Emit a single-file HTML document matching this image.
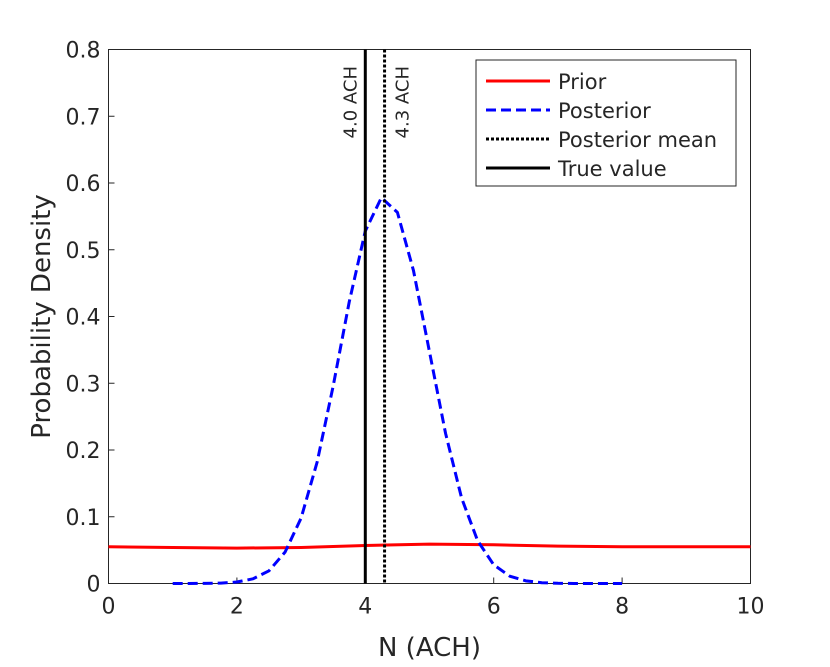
<!DOCTYPE html>
<html><head><meta charset="utf-8"><style>
body{margin:0;background:#fff;}
svg text{font-family:"DejaVu Sans","Liberation Sans",sans-serif;fill:#262626;}
</style></head><body>
<svg width="830" height="662" id="c">
<rect width="830" height="662" fill="#fff"/>
<g id="axes"></g>
<g id="marks"></g>
<g>
<rect x="476" y="60" width="260" height="126" fill="#fff" stroke="#262626" stroke-width="1"/>
<line x1="486" x2="550" y1="81" y2="81" stroke="#ff0000" stroke-width="3"/>
<text x="558" y="89" font-size="21">Prior</text>
<line x1="486" x2="550" y1="110" y2="110" stroke="#0000ff" stroke-width="3" stroke-dasharray="10,5"/>
<text x="558" y="118" font-size="21">Posterior</text>
<line x1="486" x2="550" y1="139" y2="139" stroke="#000" stroke-width="3" stroke-dasharray="3,2"/>
<text x="558" y="147" font-size="21">Posterior mean</text>
<line x1="486" x2="550" y1="168" y2="168" stroke="#000" stroke-width="3"/>
<text x="558" y="176" font-size="21">True value</text>
</g>
</svg>
<script>
const priorX=[0,1,2,3,4,5,6,7,8,9,10];
const priorY=[0.055,0.054,0.053,0.054,0.057,0.059,0.058,0.056,0.055,0.055,0.055];
const postX=[1,1.25,1.5,1.75,2,2.25,2.5,2.75,3,3.25,3.5,3.75,4,4.25,4.5,4.75,5,5.25,5.5,5.75,6,6.25,6.5,6.75,7,7.25,7.5,7.75,8];
const postY=[0,0,0.0002,0.0006,0.0022,0.007,0.019,0.047,0.098,0.182,0.296,0.422,0.528,0.578,0.556,0.469,0.347,0.225,0.128,0.064,0.028,0.011,0.004,0.0012,0.0003,0,0,0,0];
const trueValue=4.0, postMean=4.3;
const xTicks=[0,2,4,6,8,10];
const yTicks=[0,0.1,0.2,0.3,0.4,0.5,0.6,0.7,0.8];
const L=108.5,R=750.5,T=49.5,B=583.5;
const sx=v=>L+(v-0)/10*(R-L), sy=v=>B-v/0.8*(B-T);
const NS="http://www.w3.org/2000/svg";
function mk(tag,attrs,parent,txt){const e=document.createElementNS(NS,tag);for(const k in attrs)e.setAttribute(k,attrs[k]);if(txt!==undefined)e.textContent=txt;parent.appendChild(e);return e;}
const ax=document.getElementById('axes'), mg=document.getElementById('marks');
xTicks.forEach(t=>{
 const l=mk('line',{x1:sx(t),x2:sx(t),y1:B,y2:B-6,stroke:'#262626'},ax);
 
 
 const tx=mk('text',{x:sx(t),y:B+30,'font-size':22,'text-anchor':'middle'},ax,String(t));
 
 
});
yTicks.forEach(t=>{
 const l=mk('line',{x1:L,x2:L+6,y1:sy(t),y2:sy(t),stroke:'#262626'},ax);
 
 
 const tx=mk('text',{x:L-8,y:sy(t)+8,'font-size':22,'text-anchor':'end'},ax,t===0?'0':t.toFixed(1));
 
 
});
const box=mk('rect',{x:L,y:T,width:R-L,height:B-T,fill:'none',stroke:'#262626','stroke-width':1},ax);


const xt=mk('text',{x:(L+R)/2,y:656,'font-size':26,'text-anchor':'middle'},ax,'N (ACH)');


const yt=mk('text',{x:0,y:0,'font-size':26,'text-anchor':'middle',transform:`translate(50,${(T+B)/2}) rotate(-90)`},ax,'Probability Density');


const pr=mk('polyline',{points:priorX.map((x,i)=>sx(x)+','+sy(priorY[i])).join(' '),fill:'none',stroke:'#ff0000','stroke-width':3},mg);


const po=mk('polyline',{points:postX.map((x,i)=>sx(x)+','+sy(postY[i])).join(' '),fill:'none',stroke:'#0000ff','stroke-width':3,'stroke-dasharray':'10,5','stroke-linejoin':'round'},mg);


const tv=mk('line',{x1:sx(trueValue),x2:sx(trueValue),y1:T,y2:B,stroke:'#000','stroke-width':3},mg);


const pm=mk('line',{x1:sx(postMean),x2:sx(postMean),y1:T,y2:B,stroke:'#000','stroke-width':3,'stroke-dasharray':'3,2'},mg);


const tl=mk('text',{x:0,y:0,'font-size':18,'text-anchor':'end',transform:`translate(${sx(trueValue)-9},66) rotate(-90)`},mg,trueValue.toFixed(1)+' ACH');


const ml=mk('text',{x:0,y:0,'font-size':18,'text-anchor':'end',transform:`translate(${sx(postMean)+24},66) rotate(-90)`},mg,postMean.toFixed(1)+' ACH');


</script>
</body></html>
